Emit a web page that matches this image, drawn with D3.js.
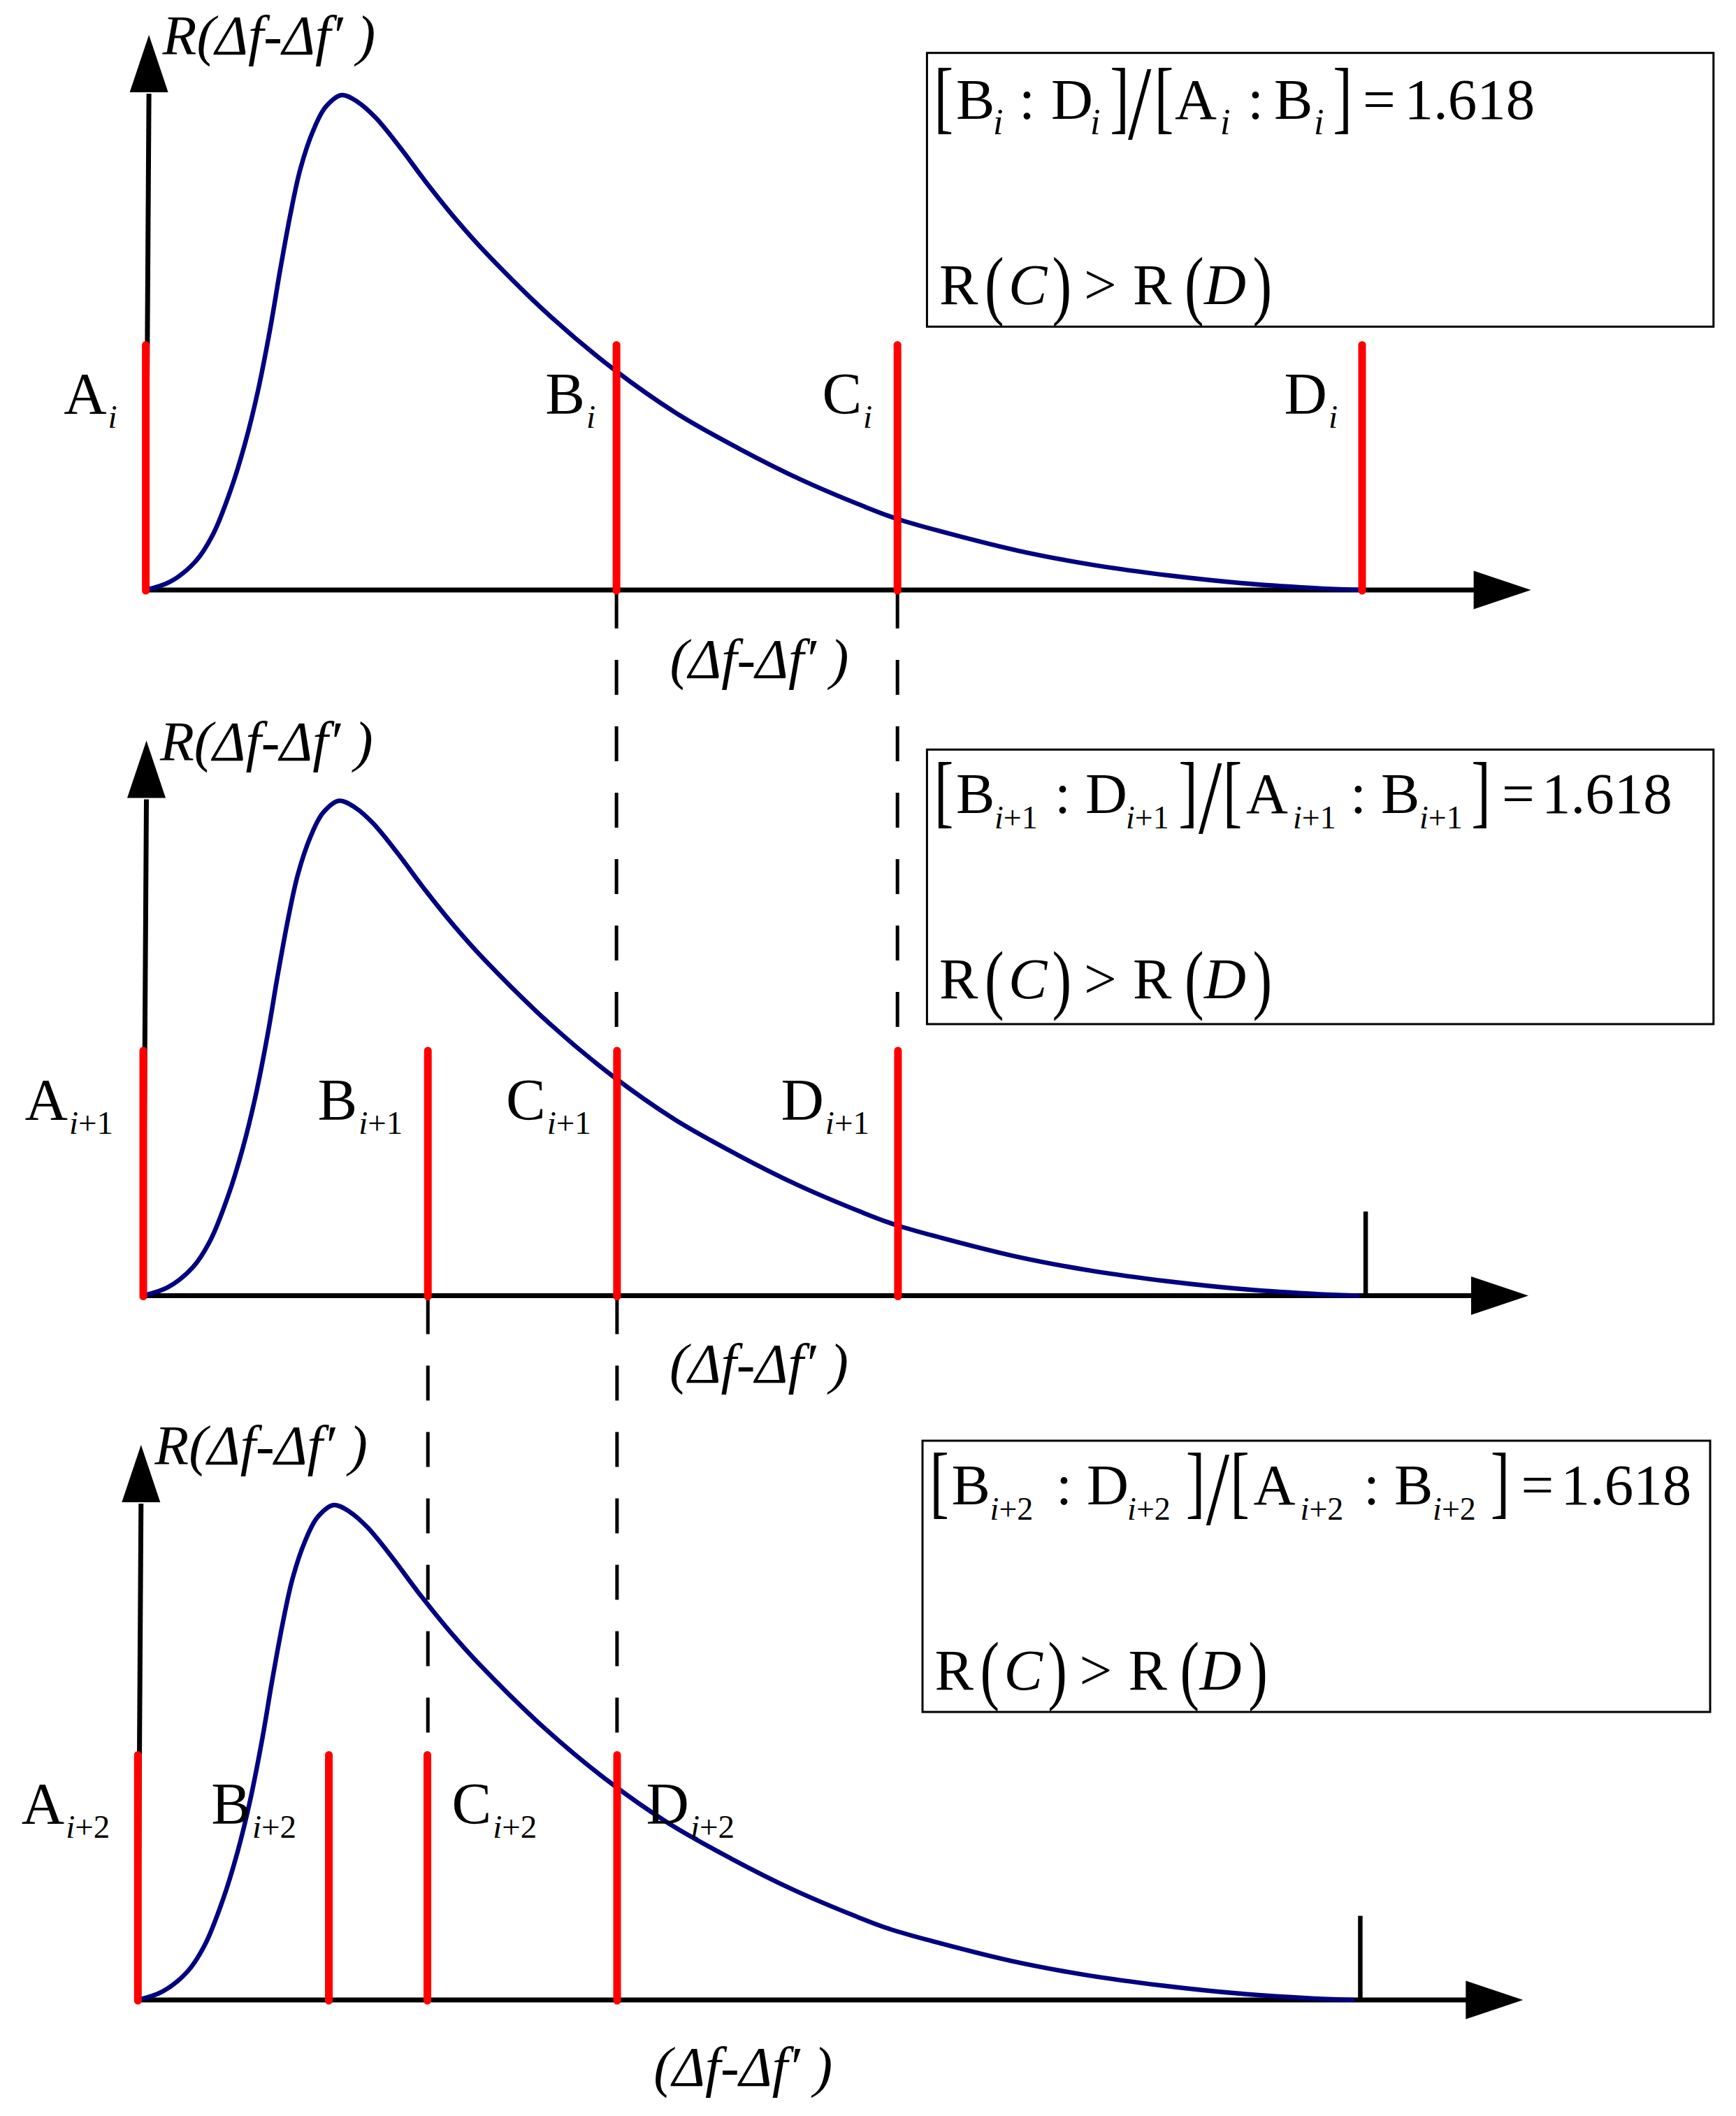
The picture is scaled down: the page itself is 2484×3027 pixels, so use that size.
<!DOCTYPE html>
<html><head><meta charset="utf-8">
<script src="https://cdn.jsdelivr.net/npm/d3@7"></script>
<style>html,body{margin:0;padding:0;background:#fff}svg{display:block}</style>
</head><body>
<script>
// ---------------- data ----------------
const curveX = [0, 2.03, 4.10, 5.54, 6.98, 8.18, 9.21, 10.25, 11.05, 11.92, 12.72, 13.76, 14.79, 16.11, 17.43, 18.87, 20.94, 23.01, 25.60, 28.24, 33.35, 38.52, 43.63, 48.75, 53.86, 59.03, 61.85, 65.59, 71.79, 78.05, 84.27, 90.53, 96.73, 100];
const curveR = [0, 0.017, 0.058, 0.113, 0.202, 0.298, 0.401, 0.531, 0.647, 0.763, 0.852, 0.928, 0.976, 1.0, 0.986, 0.955, 0.893, 0.825, 0.746, 0.674, 0.551, 0.445, 0.357, 0.286, 0.223, 0.169, 0.143, 0.117, 0.079, 0.050, 0.029, 0.013, 0.003, 0];
const markerNames = ["A", "B", "C", "D"];
const panelIndex = ["i", "i+1", "i+2"];
const markersPanel1 = [0, 38.7, 61.8, 100];
const markersPanel2 = [0, 23.4, 38.95, 62.05];
const markersPanel3 = [0, 15.7, 23.8, 39.4];
const markerHeight = 0.503;
const endTickX = 100.5;
const endTickHeight = 0.17;
const ratioText = "1.618";
const axisLabelY = "R(\u0394f-\u0394f\u2032 )";
const axisLabelX = "(\u0394f-\u0394f\u2032 )";

// ---------------- layout ----------------
const W = 2484, H = 3027;
const serif = "'Liberation Serif','Times New Roman',Times,serif";
const BLUE = "#000080", RED = "#ff0000";
const UNIT = 17.404;    // px per x unit
const RPX = 708;        // px per R unit

const panels = [
  {x0: 208.6, axisY: 844, markers: markersPanel1, idx: panelIndex[0], tick: false,
   xl: 750, xlb: 126, lab: [{a: "end", dx: -41}, {a: "end", dx: -30}, {a: "end", dx: -36}, {a: "end", dx: -35}],
   box: {x: 1326.4, y: 75.7, w: 1125.4, h: 391.6, b1: 94.3, b2: 359.3, type: 0, sub: 52}},
  {x0: 205, axisY: 1853.5, markers: markersPanel2, idx: panelIndex[1], tick: true,
   xl: 753, xlb: 124.5, lab: [{a: "end", dx: -43}, {a: "end", dx: -36}, {a: "end", dx: -37}, {a: "end", dx: -41}],
   box: {x: 1326.4, y: 1072.3, w: 1125.4, h: 392.7, b1: 90.7, b2: 355.7, type: 1, sub: 46}},
  {x0: 197.3, axisY: 2861, markers: markersPanel3, idx: panelIndex[2], tick: true,
   xl: 738, xlb: 123, lab: [{a: "end", dx: -40}, {a: "end", dx: -46.5}, {a: "start", dx: 35}, {a: "start", dx: 41.5}],
   box: {x: 1320, y: 2061, w: 1127, h: 388, b1: 90.7, b2: 355.7, type: 2, sub: 46}}
];

const svg = d3.select("body").append("svg").attr("width", W).attr("height", H);
svg.append("rect").attr("width", W).attr("height", H).attr("fill", "#fff");

panels.forEach(p => {
  p.xs = d3.scaleLinear().domain([0, 100]).range([p.x0, p.x0 + 100 * UNIT]);
  p.ys = d3.scaleLinear().domain([0, 1]).range([p.axisY, p.axisY - RPX]);
});

const gDash = svg.append("g");
const gMain = svg.append("g");

// dashed connectors: upper panel marker k -> lower panel marker k+1
for (let pi = 0; pi < 2; pi++) {
  const up = panels[pi], lo = panels[pi + 1];
  [1, 2].forEach(k => {
    const x = up.xs(up.markers[k]);
    gDash.append("line")
      .attr("x1", x).attr("x2", x)
      .attr("y1", up.axisY + 5).attr("y2", lo.ys(markerHeight) + 4)
      .attr("stroke", "#000").attr("stroke-width", 5)
      .attr("stroke-dasharray", "50,45");
  });
}

panels.forEach(p => {
  const g = gMain.append("g");
  const xs = p.xs, ys = p.ys;
  const ax = p.axisY;
  // x axis
  const xEnd = p.x0 + 1900, xTip = p.x0 + 1982;
  g.append("line").attr("x1", p.x0).attr("x2", xEnd + 2).attr("y1", ax).attr("y2", ax)
    .attr("stroke", "#000").attr("stroke-width", 7);
  g.append("path").attr("d", `M${xEnd},${ax - 27.5}L${xTip},${ax}L${xEnd},${ax + 27.5}Z`).attr("fill", "#000");
  // y axis (slightly tilted as in the original)
  const yTopX = p.x0 + 4.5, yBase = ax - 712, yTip = ax - 794;
  g.append("line").attr("x1", p.x0).attr("y1", ax).attr("x2", yTopX).attr("y2", yBase + 2)
    .attr("stroke", "#000").attr("stroke-width", 7);
  g.append("path").attr("d", `M${yTopX - 27.5},${yBase}L${yTopX},${yTip}L${yTopX + 27.5},${yBase}Z`).attr("fill", "#000");

  // axis labels
  g.append("text").attr("x", p.x0 + 24).attr("y", ax - 766)
    .attr("font-family", serif).attr("font-style", "italic").attr("font-size", 80)
    .text(axisLabelY);
  g.append("text").attr("x", p.x0 + p.xl).attr("y", ax + p.xlb)
    .attr("font-family", serif).attr("font-style", "italic").attr("font-size", 80)
    .text(axisLabelX);

  // curve
  const line = d3.line().x(d => xs(d[0])).y(d => ys(d[1])).curve(d3.curveCatmullRom.alpha(0.5));
  g.append("path").datum(curveX.map((x, i) => [x, curveR[i]]))
    .attr("d", line).attr("fill", "none").attr("stroke", BLUE).attr("stroke-width", 6.5)
    .attr("stroke-linejoin", "round");

  // end tick
  if (p.tick) {
    g.append("line").attr("x1", xs(endTickX)).attr("x2", xs(endTickX))
      .attr("y1", ys(0)).attr("y2", ys(endTickHeight))
      .attr("stroke", "#000").attr("stroke-width", 6.5);
  }

  // red markers
  g.selectAll("line.mk").data(p.markers).enter().append("line").attr("class", "mk")
    .attr("x1", d => xs(d)).attr("x2", d => xs(d))
    .attr("y1", ys(0) + 1).attr("y2", ys(markerHeight) + 5.5)
    .attr("stroke", RED).attr("stroke-width", 11).attr("stroke-linecap", "round");

  // marker labels
  p.markers.forEach((m, k) => {
    const L = p.lab[k];
    const t = g.append("text").attr("x", xs(m) + L.dx).attr("y", ax - 252)
      .attr("text-anchor", L.a).attr("font-family", serif).attr("font-size", 85);
    t.append("tspan").text(markerNames[k]);
    t.append("tspan").attr("font-style", "italic").attr("font-size", 47).attr("dy", 20).attr("dx", 2).text(p.idx[0]);
    if (p.idx.length > 1) t.append("tspan").attr("font-size", 47).text(p.idx.slice(1));
  });

  drawBox(p);
});

function tall(g, ch, inkX, top, bot, fs, topEm, botEm, lsbEm) {
  const sy = (bot - top) / ((topEm + botEm) * fs);
  const base = bot - botEm * fs * sy;
  g.append("text").attr("transform", `translate(${inkX - lsbEm * fs},${base}) scale(1,${sy})`)
    .attr("font-family", serif).attr("font-size", fs).text(ch);
}

function drawBox(p) {
  const b = p.box;
  const g = svg.append("g").attr("transform", `translate(${b.x},${b.y})`);
  g.append("rect").attr("width", b.w).attr("height", b.h).attr("fill", "none")
    .attr("stroke", "#000").attr("stroke-width", 3);

  const X0 = [17.4, 41.6, 94.6, 141.6, 177.6, 233.6, 264.6, 286.6, 332.6, 354.6, 419.6, 468.6, 496.6, 553.6, 583.6, 626.6, 691.1];
  const X1 = [17.6, 41.6, 96.6, 192.6, 226.6, 284.6, 362.6, 387.6, 430.6, 456.6, 523.6, 615.6, 649.6, 704.6, 781.6, 825.6, 887.6];
  const items = [
    {k: "open"}, {k: "name", c: markerNames[1]}, {k: "sub"}, {k: "colon"},
    {k: "name", c: markerNames[3]}, {k: "sub"}, {k: "close"}, {k: "slash"}, {k: "open"},
    {k: "name", c: markerNames[0]}, {k: "sub"}, {k: "colon"}, {k: "name", c: markerNames[1]},
    {k: "sub"}, {k: "close"}, {k: "eq"}, {k: "num"}
  ];
  let subs = 0;
  const b1 = b.b1;
  items.forEach((it, j) => {
    let x;
    if (b.type === 0) x = X0[j];
    else if (b.type === 1) x = X1[j];
    else x = X1[j] + 8.5 * subs;
    if (it.k === "open") tall(g, "[", x, b1 - 69, b1 + 24.5, 83, 0.662, 0.156, 0.088);
    else if (it.k === "close") tall(g, "]", x, b1 - 69, b1 + 24.5, 83, 0.662, 0.156, 0.034);
    else if (it.k === "slash") tall(g, "/", x, b1 - 72.5, b1 + 31, 120, 0.676, 0.014, -0.009);
    else if (it.k === "name") g.append("text").attr("x", x).attr("y", b1).attr("font-family", serif).attr("font-size", 83).text(it.c);
    else if (it.k === "colon") g.append("text").attr("x", x - 10).attr("y", b1).attr("font-family", serif).attr("font-size", 83).text(":");
    else if (it.k === "eq") g.append("text").attr("x", x - 3).attr("y", b1).attr("font-family", serif).attr("font-size", 83).text("=");
    else if (it.k === "num") g.append("text").attr("x", x - 8).attr("y", b1).attr("font-family", serif).attr("font-size", 83).text(ratioText);
    else if (it.k === "sub") {
      const t = g.append("text").attr("x", x).attr("y", b1 + 22).attr("font-family", serif).attr("font-size", b.sub);
      t.append("tspan").attr("font-style", "italic").text(p.idx[0]);
      if (p.idx.length > 1) t.append("tspan").text(p.idx.slice(1));
      subs++;
    }
  });

  // second line: R(C) > R(D)
  const b2 = b.b2;
  const L2 = [17.6, 86.6, 120.6, 181.6, 228.6, 294.6, 372.6, 400.6, 468.6];
  const txt = (x, s, italic) => g.append("text").attr("x", x).attr("y", b2).attr("font-family", serif)
    .attr("font-size", 83).attr("font-style", italic ? "italic" : "normal").text(s);
  txt(L2[0], "R");
  tall(g, "(", L2[1], b2 - 65.5, b2 + 28, 83, 0.676, 0.177, 0.048);
  txt(L2[2] - 4, markerNames[2], true);
  tall(g, ")", L2[3], b2 - 65.5, b2 + 28, 83, 0.676, 0.177, 0.029);
  txt(L2[4] - 4, ">");
  txt(L2[5], "R");
  tall(g, "(", L2[6], b2 - 65.5, b2 + 28, 83, 0.676, 0.177, 0.048);
  txt(L2[7] - 4, markerNames[3], true);
  tall(g, ")", L2[8], b2 - 65.5, b2 + 28, 83, 0.676, 0.177, 0.029);
}
</script>
</body></html>
